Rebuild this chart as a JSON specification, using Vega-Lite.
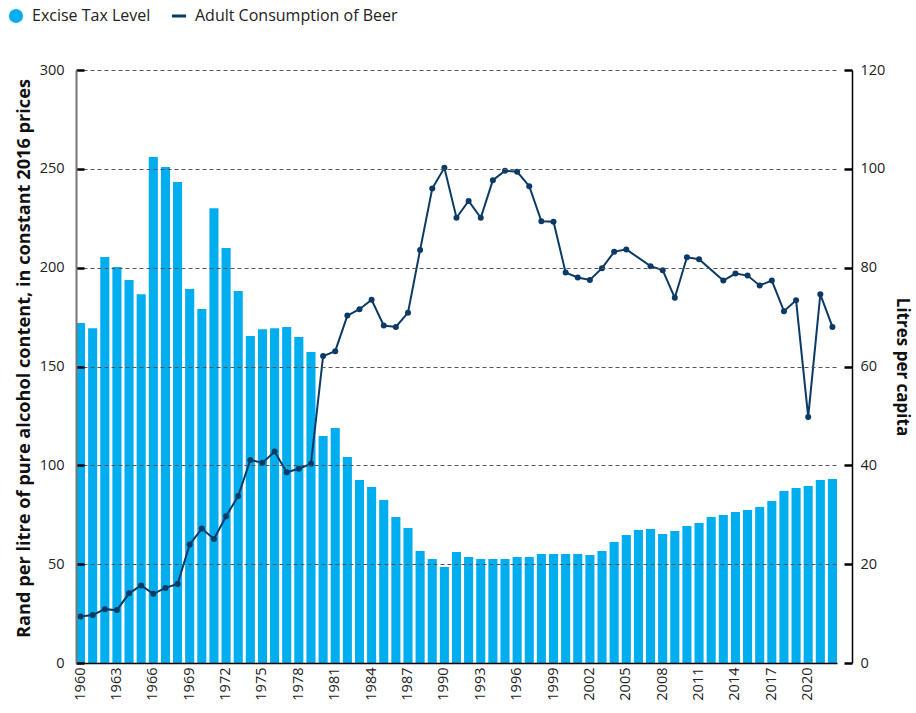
{
  "$schema": "https://vega.github.io/schema/vega-lite/v6.json",
  "width": 776,
  "height": 593,
  "autosize": "none",
  "padding": {"left": 76, "top": 70, "right": 64, "bottom": 50},
  "background": "white",
  "config": {
    "font": "Open Sans",
    "view": {"stroke": null},
    "axis": {"labelFont": "Open Sans", "titleFont": "Open Sans", "labelColor": "#222", "titleColor": "#111"}
  },
  "data": {"values": [
    {"year": 1960, "tax": 172.0, "beer": 9.4},
    {"year": 1961, "tax": 169.4, "beer": 9.7},
    {"year": 1962, "tax": 205.4, "beer": 10.9},
    {"year": 1963, "tax": 200.3, "beer": 10.7},
    {"year": 1964, "tax": 193.7, "beer": 14.1},
    {"year": 1965, "tax": 186.6, "beer": 15.7},
    {"year": 1966, "tax": 256.0, "beer": 14.0},
    {"year": 1967, "tax": 250.9, "beer": 15.2},
    {"year": 1968, "tax": 243.3, "beer": 16.0},
    {"year": 1969, "tax": 189.2, "beer": 24.0},
    {"year": 1970, "tax": 179.1, "beer": 27.2},
    {"year": 1971, "tax": 230.1, "beer": 25.1},
    {"year": 1972, "tax": 209.9, "beer": 29.7},
    {"year": 1973, "tax": 188.2, "beer": 33.8},
    {"year": 1974, "tax": 165.4, "beer": 41.1},
    {"year": 1975, "tax": 168.9, "beer": 40.5},
    {"year": 1976, "tax": 169.4, "beer": 42.8},
    {"year": 1977, "tax": 170.0, "beer": 38.6},
    {"year": 1978, "tax": 164.9, "beer": 39.3},
    {"year": 1979, "tax": 157.3, "beer": 40.3},
    {"year": 1980, "tax": 114.8, "beer": 62.1},
    {"year": 1981, "tax": 118.9, "beer": 63.1},
    {"year": 1982, "tax": 104.2, "beer": 70.3},
    {"year": 1983, "tax": 92.6, "beer": 71.6},
    {"year": 1984, "tax": 89.0, "beer": 73.5},
    {"year": 1985, "tax": 82.4, "beer": 68.3},
    {"year": 1986, "tax": 73.8, "beer": 68.0},
    {"year": 1987, "tax": 68.3, "beer": 70.9},
    {"year": 1988, "tax": 56.7, "beer": 83.6},
    {"year": 1989, "tax": 52.6, "beer": 96.0},
    {"year": 1990, "tax": 48.6, "beer": 100.2},
    {"year": 1991, "tax": 56.1, "beer": 90.1},
    {"year": 1992, "tax": 53.6, "beer": 93.5},
    {"year": 1993, "tax": 52.6, "beer": 90.1},
    {"year": 1994, "tax": 52.6, "beer": 97.7},
    {"year": 1995, "tax": 52.6, "beer": 99.6},
    {"year": 1996, "tax": 53.6, "beer": 99.4},
    {"year": 1997, "tax": 53.6, "beer": 96.5},
    {"year": 1998, "tax": 55.1, "beer": 89.4},
    {"year": 1999, "tax": 55.1, "beer": 89.3},
    {"year": 2000, "tax": 55.1, "beer": 79.0},
    {"year": 2001, "tax": 55.1, "beer": 78.0},
    {"year": 2002, "tax": 54.6, "beer": 77.5},
    {"year": 2003, "tax": 56.7, "beer": 79.9},
    {"year": 2004, "tax": 61.2, "beer": 83.2},
    {"year": 2005, "tax": 64.7, "beer": 83.7},
    {"year": 2006, "tax": 67.3, "beer": null},
    {"year": 2007, "tax": 67.8, "beer": 80.3},
    {"year": 2008, "tax": 65.3, "beer": 79.5},
    {"year": 2009, "tax": 66.8, "beer": 73.9},
    {"year": 2010, "tax": 69.3, "beer": 82.1},
    {"year": 2011, "tax": 70.8, "beer": 81.7},
    {"year": 2012, "tax": 73.8, "beer": null},
    {"year": 2013, "tax": 74.9, "beer": 77.4},
    {"year": 2014, "tax": 76.4, "beer": 78.8},
    {"year": 2015, "tax": 77.4, "beer": 78.4},
    {"year": 2016, "tax": 78.9, "beer": 76.4},
    {"year": 2017, "tax": 81.9, "beer": 77.4},
    {"year": 2018, "tax": 87.0, "beer": 71.2},
    {"year": 2019, "tax": 88.5, "beer": 73.4},
    {"year": 2020, "tax": 89.5, "beer": 49.8},
    {"year": 2021, "tax": 92.6, "beer": 74.6},
    {"year": 2022, "tax": 93.1, "beer": 68.0}
  ]},
  "encoding": {
    "x": {
      "field": "year", "type": "ordinal",
      "scale": {"range": [0, 761], "paddingInner": 0.25, "paddingOuter": 0},
      "axis": {
        "title": null,
        "values": [1960, 1963, 1966, 1969, 1972, 1975, 1978, 1981, 1984, 1987, 1990, 1993, 1996, 1999, 2002, 2005, 2008, 2011, 2014, 2017, 2020],
        "labelAngle": 270, "labelFontSize": 14.5, "labelPadding": 4,
        "ticks": false, "domainColor": "#000", "domainWidth": 1.5, "grid": false, "zindex": 1
      }
    }
  },
  "layer": [
    {
      "mark": {"type": "bar", "color": "#00ADEE"},
      "encoding": {
        "y": {
          "field": "tax", "type": "quantitative",
          "scale": {"domain": [0, 300], "nice": false},
          "axis": {
            "title": "Rand per litre of pure alcohol content, in constant 2016 prices",
            "titleFontSize": 18.2, "titleFontWeight": "bold", "titlePadding": 6, "titleLimit": 900, "titleY": 288,
            "values": [0, 50, 100, 150, 200, 250, 300],
            "labelFontSize": 14.5, "labelPadding": 20,
            "tickSize": -8, "tickWidth": 2.5, "tickColor": "#000",
            "domainColor": "#777", "domainWidth": 2,
            "grid": true, "gridDash": [4, 3], "gridColor": "#555", "gridWidth": 1,
            "zindex": 1
          }
        },
        "color": {
          "datum": "Excise Tax Level", "type": "nominal",
          "scale": {"domain": ["Excise Tax Level", "Adult Consumption of Beer"], "range": ["#00ADEE", "#0B3A65"]},
          "legend": {
            "title": null, "orient": "none", "legendX": -68, "legendY": -62,
            "direction": "horizontal", "labelFontSize": 16, "labelColor": "#222", "labelFont": "Open Sans", "labelLimit": 400,
            "symbolSize": 200, "symbolStrokeWidth": 3, "columnPadding": 14, "labelOffset": 8,
            "encode": {
              "symbols": {
                "update": {
                  "shape": {"signal": "datum.value === 'Excise Tax Level' ? 'circle' : 'stroke'"},
                  "fill": {"signal": "datum.value === 'Excise Tax Level' ? '#00ADEE' : 'transparent'"},
                  "stroke": {"signal": "datum.value === 'Excise Tax Level' ? '#00ADEE' : '#0B3A65'"},
                  "strokeWidth": {"signal": "datum.value === 'Excise Tax Level' ? 0 : 3"}
                }
              }
            }
          }
        }
      }
    },
    {
      "transform": [{"filter": "datum.beer != null"}],
      "mark": {"type": "line", "color": "#0B3A65", "strokeWidth": 2, "point": {"filled": true, "size": 36, "color": "#0B3A65"}},
      "encoding": {
        "y": {
          "field": "beer", "type": "quantitative",
          "scale": {"domain": [0, 120], "nice": false},
          "axis": {
            "orient": "right",
            "title": "Litres per capita",
            "titleFontSize": 17, "titleFontWeight": "bold", "titlePadding": 8,
            "values": [0, 20, 40, 60, 80, 100, 120],
            "labelFontSize": 14.5, "labelPadding": 16,
            "tickSize": -8, "tickWidth": 2.5, "tickColor": "#000",
            "domainColor": "#000", "domainWidth": 1.5,
            "grid": false
          }
        },
        "color": {"datum": "Adult Consumption of Beer", "type": "nominal"}
      }
    }
  ],
  "resolve": {"scale": {"y": "independent"}}
}
